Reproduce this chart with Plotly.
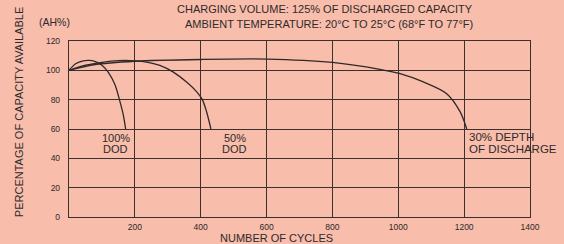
import plotly.graph_objects as go

# ---- data ----
dod100_cycles = [0, 20, 40, 60, 80, 100, 120, 140, 155, 165, 172]
dod100_cap = [100, 104.5, 106.3, 106.8, 106, 103.5, 98.5, 90, 78.5, 69.5, 60]

dod50_cycles = [0, 50, 100, 150, 200, 240, 276, 317, 357, 388, 405, 418, 431]
dod50_cap = [100, 103.5, 105.5, 106.6, 106.5, 105.5, 103.4, 98.8, 92, 85.3, 80, 71.6, 60]

dod30_cycles = [0, 75, 200, 400, 600, 800, 944, 1003, 1076, 1147, 1188, 1208]
dod30_cap = [100, 103.8, 106.2, 107.4, 107.7, 105.4, 100.7, 97.9, 92.1, 84.1, 71.7, 60]

x_ticks = [200, 400, 600, 800, 1000, 1200, 1400]
y_ticks = [0, 20, 40, 60, 80, 100, 120]

BG = "#F8BDAB"
INK = "#2f2a2a"
FONT = "Liberation Sans, Arial, sans-serif"

fig = go.Figure()
for xs, ys in [(dod100_cycles, dod100_cap), (dod50_cycles, dod50_cap), (dod30_cycles, dod30_cap)]:
    fig.add_trace(go.Scatter(x=xs, y=ys, mode="lines",
                             line=dict(color=INK, width=1.3, shape="spline", smoothing=0.8),
                             showlegend=False, hoverinfo="skip"))

W, H = 564, 244
L, R, T, B = 69, 564 - 530.5, 41, 244 - 216.7

def px2paper(px, py):
    return (px - L) / (W - L - R), (H - B - py) / (H - T - B)

fig.update_layout(
    width=W, height=H,
    margin=dict(l=L, r=R, t=T, b=B, pad=0),
    paper_bgcolor=BG, plot_bgcolor=BG,
    font=dict(family=FONT, color=INK),
    showlegend=False,
    xaxis=dict(range=[0, 1400], tickvals=x_ticks, showgrid=True, gridcolor="#3a302e", gridwidth=1,
               showline=True, linecolor="#3a302e", linewidth=1.2, mirror=True, zeroline=False,
               tickfont=dict(size=8.5, color=INK), ticks="", ticklabelstandoff=2),
    yaxis=dict(range=[0, 120], tickvals=y_ticks, showgrid=True, gridcolor="#3a302e", gridwidth=1,
               showline=True, linecolor="#3a302e", linewidth=1.2, mirror=True, zeroline=False,
               tickfont=dict(size=8.5, color=INK), ticks="", ticklabelstandoff=6),
)

anns = []
def add_px(text, px, py, size, xanchor="center", angle=0):
    xp, yp = px2paper(px, py)
    anns.append(dict(text=text, x=xp, y=yp, xref="paper", yref="paper", showarrow=False,
                     xanchor=xanchor, yanchor="middle", textangle=angle,
                     font=dict(size=size, family=FONT, color=INK)))

add_px("CHARGING VOLUME: 125% OF DISCHARGED CAPACITY", 475, 9.5, 11, xanchor="right")
add_px("AMBIENT TEMPERATURE: 20°C TO 25°C (68°F TO 77°F)", 475, 24, 11, xanchor="right")
add_px("(AH%)", 54, 22, 10.5)
add_px("PERCENTAGE OF CAPACITY AVAILABLE", 19, 112, 11, angle=-90)
add_px("NUMBER OF CYCLES", 277, 237.5, 11)

add_px("100%", 116, 137.5, 11)
add_px("DOD", 116, 148.5, 11)
add_px("50%", 235, 137.5, 11)
add_px("DOD", 235, 148.5, 11)
add_px("30% DEPTH", 467, 137.3, 11.5, xanchor="left")
add_px("OF DISCHARGE", 467, 148.5, 11.5, xanchor="left")

fig.update_layout(annotations=anns)
fig.write_html("out.html", config={"displayModeBar": False, "staticPlot": True},
               post_script="document.body.style.margin='0';")
